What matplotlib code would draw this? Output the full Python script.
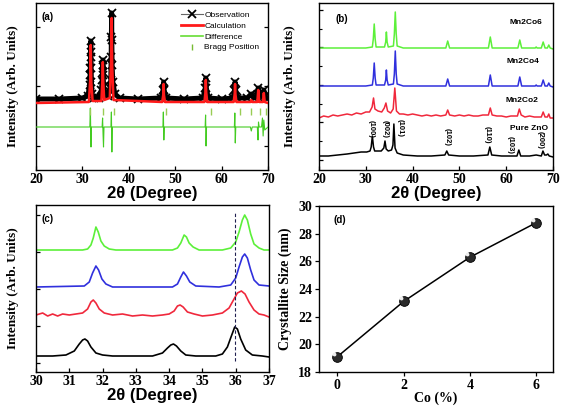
import matplotlib
matplotlib.use('Agg')
import matplotlib.pyplot as plt
from matplotlib.lines import Line2D
from matplotlib.path import Path
from matplotlib.ticker import FixedLocator, NullFormatter

# ---------------- data ----------------
# (a) Rietveld refinement (arbitrary intensity units)
obs_x = [20, 25, 30, 31.2, 31.55, 31.66, 31.71, 31.75, 31.8, 31.84, 31.88, 31.94, 32.1, 32.5,
         33.5, 34.1, 34.28, 34.34, 34.38, 34.43, 34.48, 34.56, 34.8, 35.5, 35.95, 36.12, 36.2, 36.25,
         36.3, 36.34, 36.4, 36.55, 37, 38, 42, 47, 47.38, 47.5, 47.62, 48, 52, 56, 56.48, 56.6,
         56.72, 57.1, 60, 62.5, 62.78, 62.9, 63.02, 63.4, 65.5, 66.4, 66.9, 67.6, 67.9, 68.1, 68.6,
         68.9, 69.1, 69.3, 70]
obs_y = [71, 71, 72, 74, 85, 95, 102, 113, 129, 118, 102, 88, 76, 72,
         72, 80, 90, 98, 105, 110, 95, 84, 76, 74, 82, 90, 113, 133,
         157, 130, 105, 88, 76, 72, 71, 72, 80, 88, 80, 72, 71, 72, 82, 92,
         82, 72, 71, 72, 80, 88, 80, 72, 72, 76, 72, 74, 82, 75, 74,
         74, 80, 73, 72]
calc_x = [20, 31.4, 31.68, 31.8, 31.92, 32.2, 34.1, 34.32, 34.4, 34.48, 34.7, 35.9, 36.18, 36.3,
          36.42, 36.7, 47.2, 47.42, 47.5, 47.58, 47.8, 56.3, 56.52, 56.6, 56.68, 56.9, 62.6, 62.82,
          62.9, 62.98, 63.2, 66.2, 66.4, 66.6, 67.7, 67.9, 68.1, 68.9, 69.1, 69.3, 70]
calc_y = [67, 68, 90, 125, 88, 69, 69, 92, 108, 90, 70, 72, 110, 152,
          105, 70, 68, 75, 86, 75, 68, 68, 78, 90, 78, 68, 68, 76,
          86, 76, 68, 68, 70, 68, 68, 80, 68, 68, 77, 68, 67]
diff_x = [20, 30, 31.6, 31.72, 31.85, 31.95, 34.25, 34.35, 34.45, 34.55, 34.65, 36.15, 36.25,
          36.35, 36.45, 47.35, 47.45, 47.55, 47.65, 56.45, 56.55, 56.65, 56.75, 62.75, 62.85,
          62.95, 63.05, 66.2, 66.4, 66.6, 67.7, 67.85, 67.95, 68.1, 68.6, 68.8, 68.95, 69.1, 69.3, 70]
diff_y = [43, 43, 43, 62, 23, 43, 43, 52, 36, 23, 43, 43, 58,
          18, 43, 43, 58, 30, 43, 43, 55, 24, 43, 43, 57,
          27, 43, 43, 39, 43, 43, 30, 48, 43, 43, 52, 34, 50, 40, 43]
bragg_pos = [31.6, 34.5, 36.9, 48.0, 57.7, 63.9, 66.3, 68.2, 69.6]

# (b) XRD patterns of the series
zno_x = [20, 22, 24, 26, 27.5, 29, 30.2, 30.9, 31.15, 31.4, 31.65, 31.9, 33.3, 33.85, 34.1, 34.35,
         34.8, 35.5, 35.8, 36.0, 36.25, 36.7, 38, 41, 44, 46.9, 47.3, 47.7, 50, 53, 56.1, 56.5,
         56.9, 59, 62.3, 62.7, 63.1, 65, 66.4, 67.5, 67.85, 68.2, 68.6, 68.9, 69.2, 70]
zno_y = [14, 14, 15, 16, 17, 18, 18, 19, 23, 34, 23, 19, 19, 22, 29, 21,
         19, 20, 25, 46, 22, 17, 15, 14, 14, 15, 19, 15, 14, 14, 15, 23,
         15, 14, 14, 20, 14, 14, 15, 14, 19, 15, 15, 16, 14, 13]
co2_x = [20, 21, 22, 23, 24, 25, 26, 27, 28, 29, 30, 30.8, 31.35, 31.65, 31.95, 32.6, 33.4, 33.95,
         34.3, 34.65, 35.3, 35.85, 36.2, 36.55, 37.2, 38, 39, 40, 41, 42, 43, 44, 45, 46, 47.1,
         47.5, 47.9, 49, 50, 51, 52, 53, 54, 55, 56.2, 56.6, 57.0, 58, 59, 60, 61, 62.4, 62.8,
         63.2, 64, 65, 66, 67.5, 67.9, 68.3, 68.8, 69.1, 69.4, 70]
co2_y = [52, 54, 53, 55, 54, 55, 56, 55, 57, 56, 58, 58, 63, 72, 61, 59, 58, 62,
         67, 59, 57, 61, 82, 59, 56, 56, 55, 56, 55, 54, 55, 54, 55, 54, 55,
         60, 55, 54, 55, 54, 55, 54, 54, 55, 55, 62, 55, 54, 54, 53, 54, 54, 61,
         55, 53, 54, 53, 53, 58, 53, 53, 56, 52, 52]
co4_x = [20, 30, 31.4, 31.6, 31.8, 32.0, 32.2, 34.0, 34.25, 34.4, 34.55, 34.8, 35.9, 36.1, 36.3,
         36.5, 36.7, 38, 47.1, 47.5, 47.9, 56.2, 56.6, 57.0, 62.5, 62.9, 63.3, 66.2, 66.4, 66.6,
         67.5, 67.9, 68.3, 68.8, 69.1, 69.4, 70]
co4_y = [84, 84, 85, 92, 107, 92, 85, 85, 90, 100, 90, 85, 86, 96, 119,
         96, 86, 84, 84, 91, 84, 84, 95, 84, 84, 93, 84, 84, 85, 84,
         84, 90, 84, 84, 87, 84, 83]
co6_x = [20, 30, 31.4, 31.6, 31.8, 32.0, 32.2, 34.0, 34.25, 34.4, 34.55, 34.8, 35.9, 36.1, 36.3,
         36.5, 36.7, 38, 47.1, 47.5, 47.9, 56.2, 56.6, 57.0, 62.5, 62.9, 63.3, 66.2, 66.4, 66.6,
         67.5, 67.9, 68.3, 68.8, 69.1, 69.4, 70]
co6_y = [122, 122, 123, 131, 146, 131, 123, 123, 128, 138, 128, 123, 124, 136, 158,
         136, 124, 122, 122, 129, 122, 122, 133, 122, 122, 130, 122, 122, 123, 122,
         122, 128, 122, 122, 125, 122, 121]
series_labels = ['Mn2Co6', 'Mn2Co4', 'Mn2Co2', 'Pure ZnO']
series_label_x = [64.2, 63.6, 63.4, 64.9]
series_label_y = [147, 108, 69, 42]
hkl_labels = ['(100)', '(002)', '(101)', '(102)', '(110)', '(103)', '(200)']
hkl_x = [31.2, 34.1, 37.3, 47.4, 56.0, 60.8, 67.2]
hkl_y = [41, 41, 42, 33, 35, 25, 30]

# (c) zoom on the three main reflections
zc_k_x = [30, 30.5, 30.9, 31.15, 31.3, 31.4, 31.47, 31.55, 31.65, 31.8, 32.0, 32.3, 33.5, 33.8,
          33.95, 34.05, 34.13, 34.22, 34.35, 34.5, 34.8, 35.4, 35.6, 35.75, 35.87, 35.97, 36.05,
          36.15, 36.3, 36.5, 36.8, 37]
zc_k_y = [16, 16, 17, 21, 28, 32, 33, 31, 25, 19, 17, 16, 16, 19,
          24, 27, 28, 26, 21, 17, 16, 16, 18, 25, 36, 45, 43,
          33, 22, 17, 16, 15]
zc_r_x = [30, 30.2, 30.35, 30.5, 30.65, 30.8, 31.0, 31.2, 31.4, 31.55, 31.65, 31.72, 31.8, 31.9,
          32.05, 32.3, 32.6, 32.9, 33.2, 33.5, 33.8, 34.0, 34.15, 34.25, 34.33, 34.42, 34.55,
          34.75, 35.0, 35.3, 35.6, 35.8, 35.95, 36.05, 36.17, 36.28, 36.4, 36.55, 36.7, 36.85, 37]
zc_r_y = [57, 59, 56, 58, 56, 58, 57, 58, 59, 63, 70, 72, 69, 63,
          59, 57, 58, 56, 57, 56, 57, 58, 61, 66, 67, 65, 60,
          58, 56, 57, 59, 64, 73, 79, 81, 78, 70, 62, 58, 57, 55]
zc_b_x = [30, 31.45, 31.6, 31.7, 31.8, 31.88, 31.98, 32.1, 32.3, 34.1, 34.25, 34.35, 34.43, 34.52,
          34.62, 34.8, 35.5, 35.85, 36.0, 36.1, 36.2, 36.27, 36.35, 36.45, 36.55, 36.7, 37]
zc_b_y = [85, 86, 90, 99, 106, 102, 93, 88, 85, 85, 88, 95, 100, 96,
          90, 86, 85, 87, 94, 105, 115, 118, 114, 102, 92, 87, 86]
zc_g_x = [30, 31.4, 31.55, 31.65, 31.72, 31.8, 31.87, 31.95, 32.05, 32.2, 32.4, 34.1, 34.25, 34.35,
          34.45, 34.52, 34.6, 34.72, 34.9, 35.6, 35.85, 36.0, 36.1, 36.2, 36.27, 36.35, 36.45,
          36.55, 36.7, 36.85, 37]
zc_g_y = [122, 122, 123, 127, 134, 145, 140, 131, 126, 123, 122, 122, 124, 129,
          137, 135, 129, 125, 122, 122, 124, 130, 140, 152, 157, 152, 138,
          128, 124, 122, 122]
ref_peak = 35.97

# (d) crystallite size
co_pct = [0, 2, 4, 6]
cryst_size = [19.1, 23.1, 26.3, 28.8]

# ---------------- styling ----------------
GREEN = '#5cf03a'
BLUE = '#3030dd'
RED = '#f0283c'
SERIF = 'Liberation Serif'
SANS = 'Liberation Sans'

W, H = 561, 411
fig = plt.figure(figsize=(W / 100, H / 100), dpi=100)


def box(l, t, r, b):
    return [l / W, 1 - b / H, (r - l) / W, (b - t) / H]


axA = fig.add_axes(box(36, 3, 268, 170))
axB = fig.add_axes(box(319, 3, 553, 170))
axC = fig.add_axes(box(36, 205, 269, 372))
axD = fig.add_axes(box(319, 206, 553, 372))


def style(ax, xticks, yticks, ylabel, ylabel_size=9.5, xlabel='2θ (Degree)', xlabel_font=SANS,
          xlabel_size=12, show_ylabels=False, tickdir='in', minor_y=None, right_ticks=False):
    for s in ax.spines.values():
        s.set_linewidth(1.0)
    ax.set_xticks(xticks)
    ax.set_yticks(yticks)
    if minor_y is not None:
        ax.yaxis.set_minor_locator(FixedLocator(minor_y))
        ax.yaxis.set_minor_formatter(NullFormatter())
    ax.tick_params(axis='both', which='major', direction=tickdir, length=3, width=0.9,
                   labelsize=10, pad=2, right=right_ticks)
    ax.tick_params(axis='y', which='minor', direction=tickdir, length=1.8, width=0.8)
    if not show_ylabels:
        ax.set_yticklabels([])
    for lbl in ax.get_xticklabels() + ax.get_yticklabels():
        lbl.set_fontfamily(SERIF)
        lbl.set_fontweight('bold')
    ax.set_xlabel(xlabel, fontfamily=xlabel_font, fontweight='bold', fontsize=xlabel_size,
                  labelpad=0)
    ax.set_ylabel(ylabel, fontfamily=SERIF, fontweight='bold', fontsize=ylabel_size)


# ---- (a)
axA.plot(obs_x, obs_y, color='black', lw=3.6, solid_joinstyle='round', zorder=2)
axA.plot(obs_x, obs_y, ls='none', marker='x', ms=6, mew=1.3, color='black', zorder=3)
axA.plot(calc_x, calc_y, color='#ff1a1a', lw=1.8, zorder=4)
axA.plot(diff_x, diff_y, color='#44cc22', lw=0.8, zorder=3)
axA.vlines(bragg_pos, 55, 62, color='#99cc55', lw=1.0, zorder=3)
axA.set_xlim(20, 70)
axA.set_ylim(0, 167)
style(axA, [20, 30, 40, 50, 60, 70], [24, 83.5, 143], 'Intensity (Arb. Units)', right_ticks=True)
axA.yaxis.set_label_coords(-0.075, 0.5)
axA.text(0.025, 0.915, '(a)', transform=axA.transAxes, fontfamily=SANS, fontweight='bold',
         fontsize=7, ha='left', va='center')
handles = [
    Line2D([], [], color='#666666', lw=0.8, marker='x', ms=6, mew=1.3, mec='black'),
    Line2D([], [], color='#ff1a1a', lw=2),
    Line2D([], [], color='#66dd33', lw=1.2),
    Line2D([], [], color='#77bb33', lw=0, marker='|', ms=5, mew=1.0),
]
axA.legend(handles, ['Observation', 'Calculation', 'Difference', 'Bragg Position'],
           loc='upper left', bbox_to_anchor=(0.6, 0.985), frameon=False,
           prop={'family': SANS, 'size': 6}, handlelength=2.6, handletextpad=0.2,
           labelspacing=0.35, borderpad=0.2)

# ---- (b)
axB.plot(zno_x, zno_y, color='black', lw=1.1)
axB.plot(co2_x, co2_y, color=RED, lw=1.1)
axB.plot(co4_x, co4_y, color=BLUE, lw=1.1)
axB.plot(co6_x, co6_y, color=GREEN, lw=1.1)
axB.set_xlim(20, 70)
axB.set_ylim(0, 167)
style(axB, [20, 30, 40, 50, 60, 70], [10, 47.5, 85, 122.5, 160], 'Intensity (Arb. Units)',
      minor_y=[28.75, 66.25, 103.75, 141.25])
axB.yaxis.set_label_coords(-0.1, 0.5)
axB.text(0.07, 0.905, '(b)', transform=axB.transAxes, fontfamily=SANS, fontweight='bold',
         fontsize=7, ha='left', va='center')
for lab, x, y in zip(series_labels, series_label_x, series_label_y):
    axB.text(x, y, lab, fontfamily=SANS, fontweight='bold', fontsize=6, ha='center', va='center')
for lab, x, y in zip(hkl_labels, hkl_x, hkl_y):
    axB.text(x, y, lab, fontfamily=SANS, fontweight='bold', fontsize=5.5, ha='center',
             va='center', rotation=270)

# ---- (c)
axC.plot(zc_k_x, zc_k_y, color='black', lw=1.2)
axC.plot(zc_r_x, zc_r_y, color=RED, lw=1.2)
axC.plot(zc_b_x, zc_b_y, color=BLUE, lw=1.2)
axC.plot(zc_g_x, zc_g_y, color=GREEN, lw=1.2)
axC.axvline(ref_peak, ymin=0.066, ymax=0.96, color='#202050', lw=0.8, ls=(0, (3, 2)))
axC.set_xlim(30, 37)
axC.set_ylim(0, 167)
style(axC, [30, 31, 32, 33, 34, 35, 36, 37], [9, 46, 83, 120, 157], 'Intensity (Arb. Units)')
axC.yaxis.set_label_coords(-0.075, 0.5)
axC.text(0.025, 0.915, '(c)', transform=axC.transAxes, fontfamily=SANS, fontweight='bold',
         fontsize=7, ha='left', va='center')

# ---- (d)
highlight = Path.circle(center=(-0.25, 0.25), radius=0.16)
axD.plot(co_pct, cryst_size, color='black', lw=1.1, marker='o', ms=7, mfc='#2a2a2a',
         mec='black', mew=0.6, zorder=3)
axD.plot(co_pct, cryst_size, ls='none', marker=highlight, ms=7, mfc='#eeeeee', mec='none',
         zorder=4)
axD.set_xlim(-0.55, 6.5)
axD.set_ylim(18, 30)
style(axD, [0, 2, 4, 6], [18, 20, 22, 24, 26, 28, 30], 'Crystallite Size (nm)', ylabel_size=10,
      xlabel='Co (%)', xlabel_font=SERIF, xlabel_size=10, show_ylabels=True, tickdir='out')
axD.text(0.06, 0.915, '(d)', transform=axD.transAxes, fontfamily=SANS, fontweight='bold',
         fontsize=7, ha='left', va='center')

fig.savefig('out.png', dpi=100)
